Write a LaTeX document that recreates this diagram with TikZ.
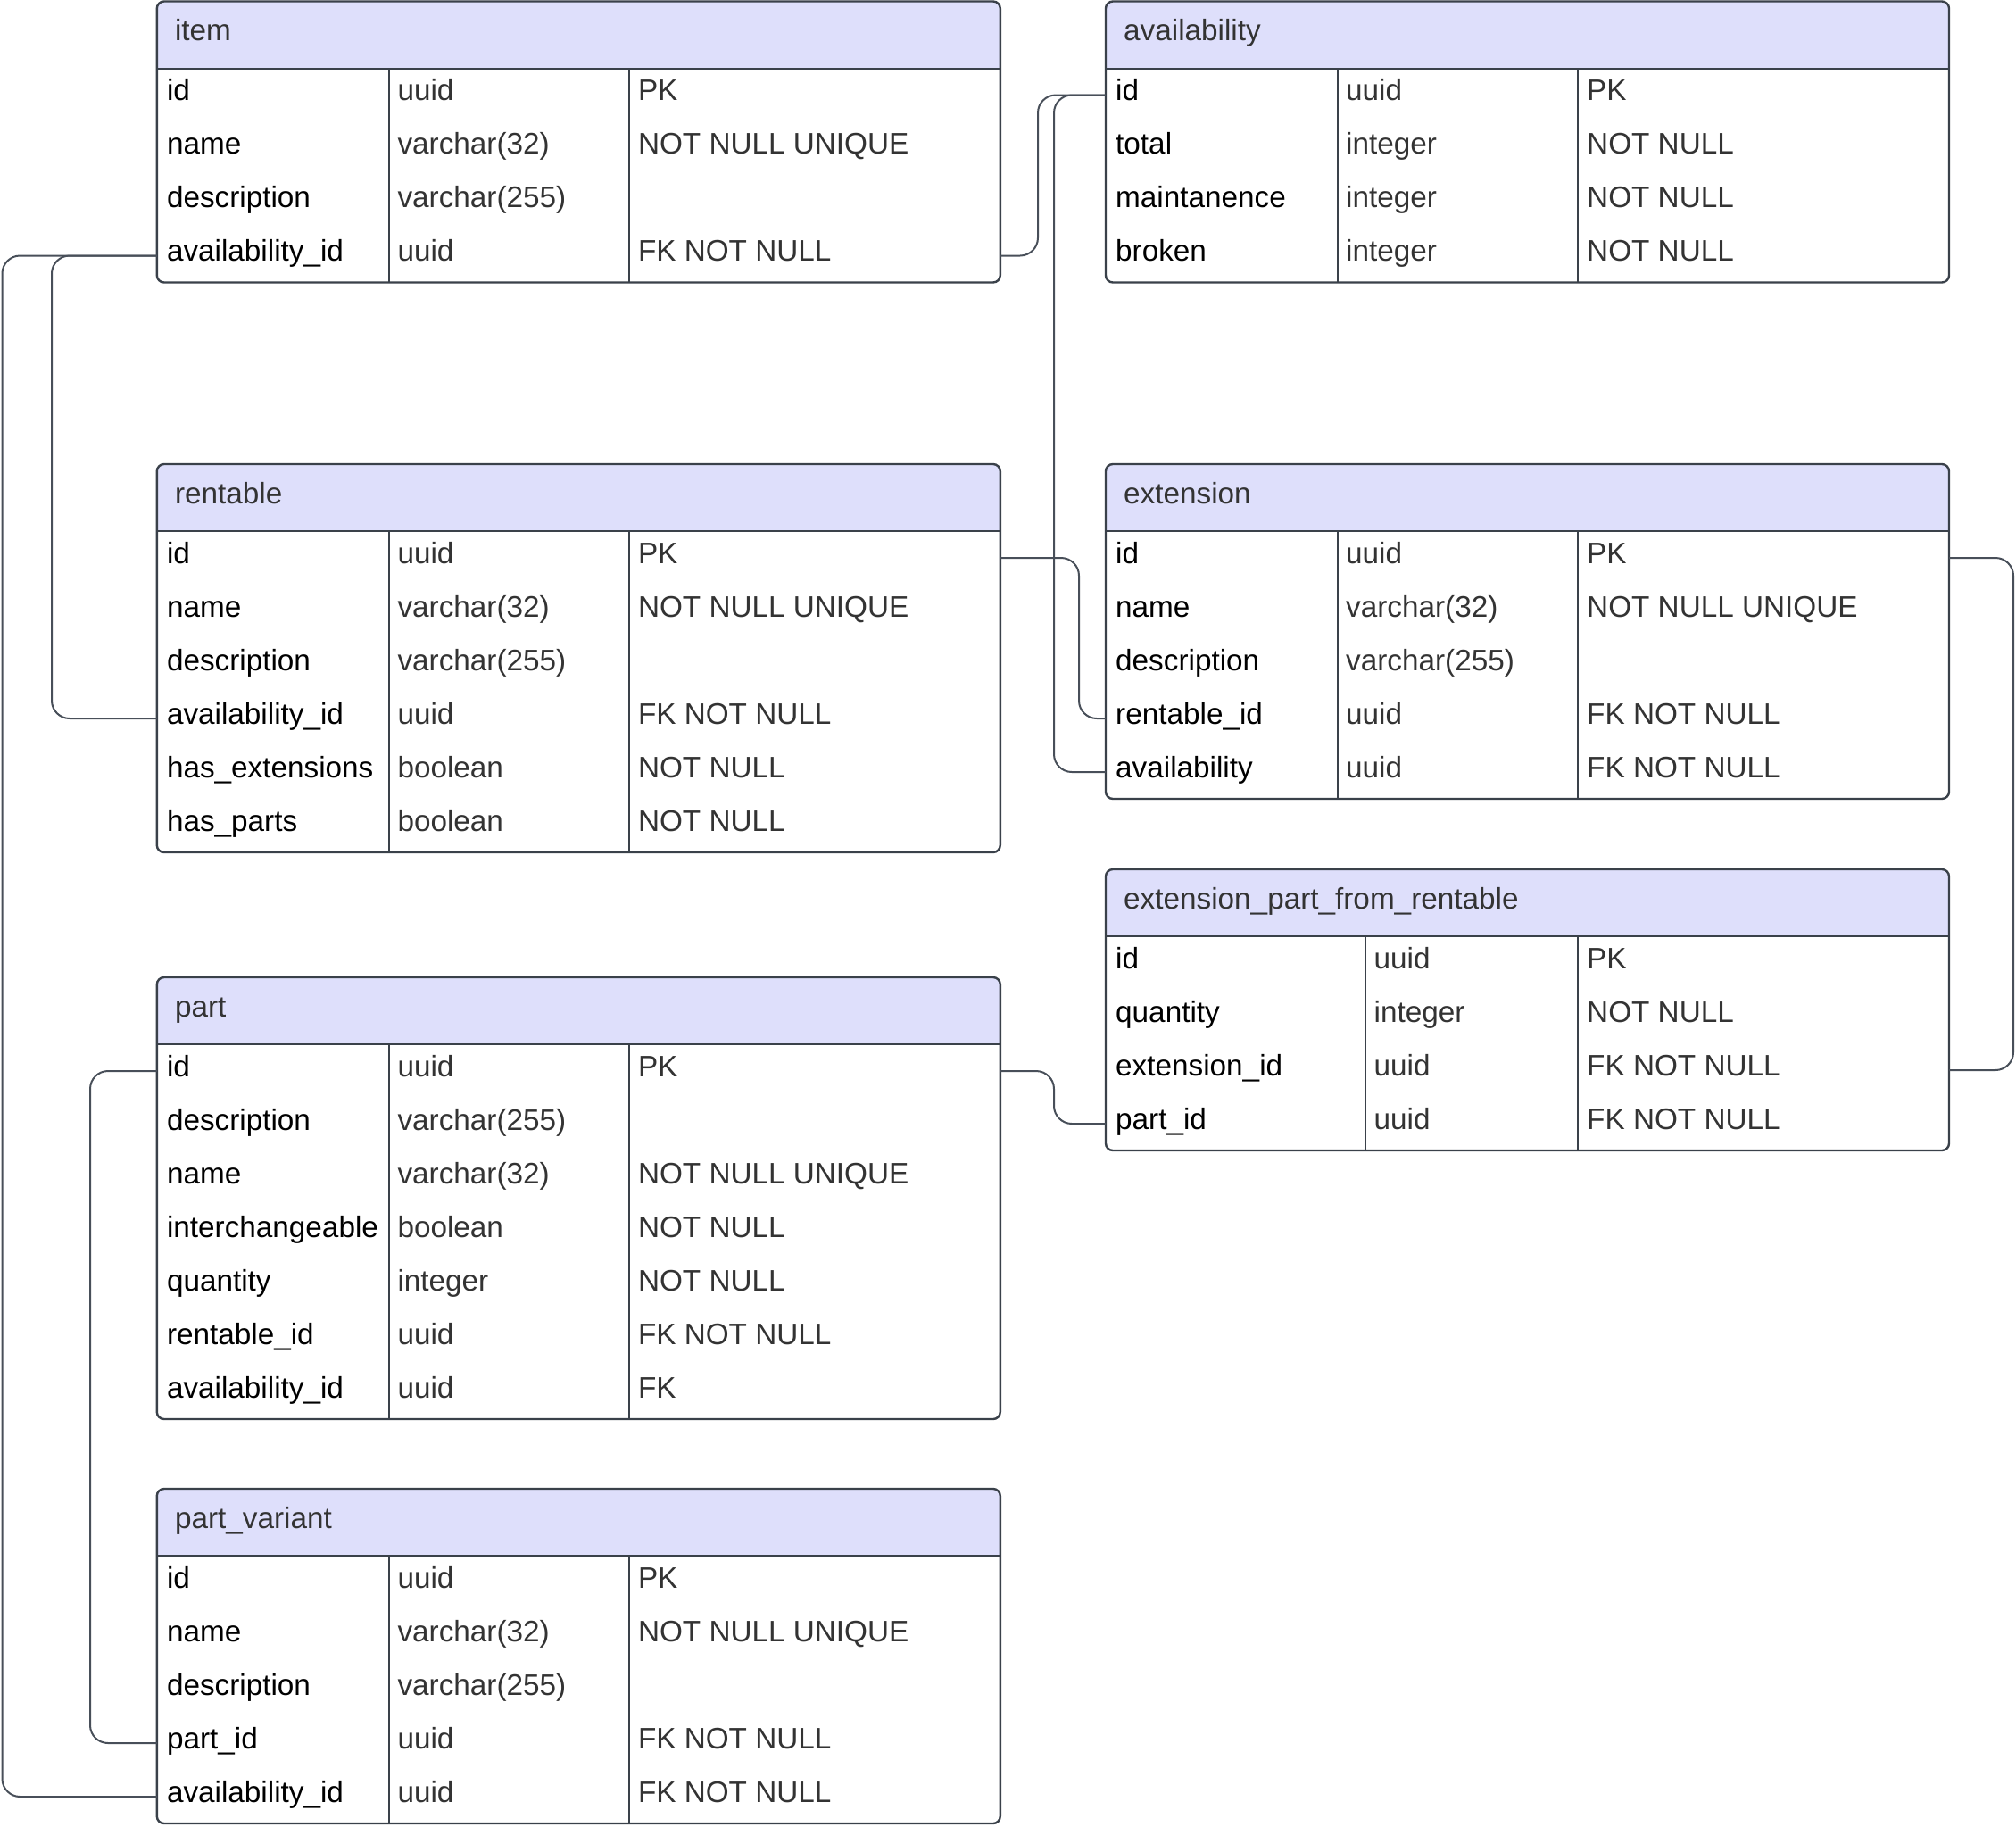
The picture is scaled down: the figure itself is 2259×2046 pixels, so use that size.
\documentclass[tikz,border=0pt]{standalone}
\usepackage{fontspec}
\setmainfont{Liberation Sans}
\usetikzlibrary{calc}
\definecolor{hdrcol}{RGB}{222,223,251}
\definecolor{bordcol}{RGB}{58,65,74}
\definecolor{conncol}{RGB}{72,79,89}
\definecolor{graytxt}{RGB}{51,51,51}
\tikzset{
  tbl/.style={minimum width=945pt, inner sep=0pt, outer sep=0pt, anchor=north west, draw=none},
  border/.style={draw=bordcol, line width=2.4pt},
  divline/.style={draw=bordcol, line width=2pt},
  conn/.style={draw=conncol, line width=2pt, rounded corners=20pt},
  txt/.style={anchor=base west, inner sep=0pt, font=\fontsize{33.3}{40}\selectfont},
  fname/.style={txt, text=black},
  ftype/.style={txt, text=graytxt},
  ttitle/.style={txt, text=graytxt},
}
\newcommand{\ertable}[7]{%
  \pgfmathsetmacro{\tabX}{#3}%
  \pgfmathsetmacro{\tabY}{#4}%
  \pgfmathsetmacro{\tabH}{75+60*#6}%
  \node[tbl, minimum height=\tabH pt] (#1) at (\tabX,\tabY) {};
  \begin{scope}
    \clip[rounded corners=8pt] (\tabX,\tabY) rectangle ({\tabX+945},{\tabY+\tabH});
    \fill[white] (\tabX,\tabY) rectangle ({\tabX+945},{\tabY+\tabH});
    \fill[hdrcol] (\tabX,\tabY) rectangle ({\tabX+945},{\tabY+75});
  \end{scope}
  \draw[divline] (\tabX,{\tabY+75}) -- ({\tabX+945},{\tabY+75});
  \draw[divline] ({\tabX+#5},{\tabY+75}) -- ({\tabX+#5},{\tabY+\tabH});
  \draw[divline] ({\tabX+529},{\tabY+75}) -- ({\tabX+529},{\tabY+\tabH});
  \node[ttitle] (#1-title) at ({\tabX+20},{\tabY+44}) {#2};
  \foreach \fa/\fb/\fc [count=\i] in {#7} {
    \pgfmathsetmacro{\rowT}{\tabY+75+60*(\i-1)}
    \node[fname] (#1-\i-n) at ({\tabX+11},{\rowT+36.3}) {\fa};
    \node[ftype] (#1-\i-t) at ({\tabX+#5+9.5},{\rowT+36.3}) {\fb};
    \node[ftype] (#1-\i-c) at ({\tabX+539},{\rowT+36.3}) {\fc};
    \coordinate (#1-\i-L) at (\tabX,{\rowT+30});
    \coordinate (#1-\i-R) at ({\tabX+945},{\rowT+30});
  }
  \draw[border, rounded corners=8pt] (\tabX,\tabY) rectangle ({\tabX+945},{\tabY+\tabH});
}
\begin{document}
\begin{tikzpicture}[x=1pt,y=-1pt]
\useasboundingbox (0,0) rectangle (2259,2046);

\ertable{item}{item}{175.8}{1.5}{260}{4}{id/uuid/PK, name/varchar(32)/NOT NULL UNIQUE, description/varchar(255)/{}, availability\_id/uuid/FK NOT NULL}
\ertable{avail}{availability}{1239}{1.5}{259.5}{4}{id/uuid/PK, total/integer/NOT NULL, maintanence/integer/NOT NULL, broken/integer/NOT NULL}
\ertable{rent}{rentable}{175.8}{520}{260}{6}{id/uuid/PK, name/varchar(32)/NOT NULL UNIQUE, description/varchar(255)/{}, availability\_id/uuid/FK NOT NULL, has\_extensions/boolean/NOT NULL, has\_parts/boolean/NOT NULL}
\ertable{ext}{extension}{1239}{520}{259.5}{5}{id/uuid/PK, name/varchar(32)/NOT NULL UNIQUE, description/varchar(255)/{}, rentable\_id/uuid/FK NOT NULL, availability/uuid/FK NOT NULL}
\ertable{epfr}{extension\_part\_from\_rentable}{1239}{974}{291}{4}{id/uuid/PK, quantity/integer/NOT NULL, extension\_id/uuid/FK NOT NULL, part\_id/uuid/FK NOT NULL}
\ertable{part}{part}{175.8}{1095}{260}{7}{id/uuid/PK, description/varchar(255)/{}, name/varchar(32)/NOT NULL UNIQUE, interchangeable/boolean/NOT NULL, quantity/integer/NOT NULL, rentable\_id/uuid/FK NOT NULL, availability\_id/uuid/FK}
\ertable{pv}{part\_variant}{175.8}{1668}{260}{5}{id/uuid/PK, name/varchar(32)/NOT NULL UNIQUE, description/varchar(255)/{}, part\_id/uuid/FK NOT NULL, availability\_id/uuid/FK NOT NULL}

\coordinate (laneO) at (2.5,0);
\coordinate (laneR) at (58,0);
\coordinate (laneP) at (101,0);
\coordinate (laneIA) at (1163,0);
\coordinate (laneAE) at (1181,0);
\coordinate (laneRE) at (1209,0);
\coordinate (laneER) at (2256,0);

\draw[conn] (item-4-L) -- (item-4-L -| laneO) |- (pv-5-L);
\draw[conn] (item-4-L) -- (item-4-L -| laneR) |- (rent-4-L);
\draw[conn] (item-4-R) -- (item-4-R -| laneIA) |- (avail-1-L);
\draw[conn] (avail-1-L) -- (avail-1-L -| laneAE) |- (ext-5-L);
\draw[conn] (rent-1-R) -- (rent-1-R -| laneRE) |- (ext-4-L);
\draw[conn] (ext-1-R) -- (ext-1-R -| laneER) |- (epfr-3-R);
\draw[conn] (part-1-R) -- (part-1-R -| laneAE) |- (epfr-4-L);
\draw[conn] (part-1-L) -- (part-1-L -| laneP) |- (pv-4-L);
\end{tikzpicture}
\end{document}
